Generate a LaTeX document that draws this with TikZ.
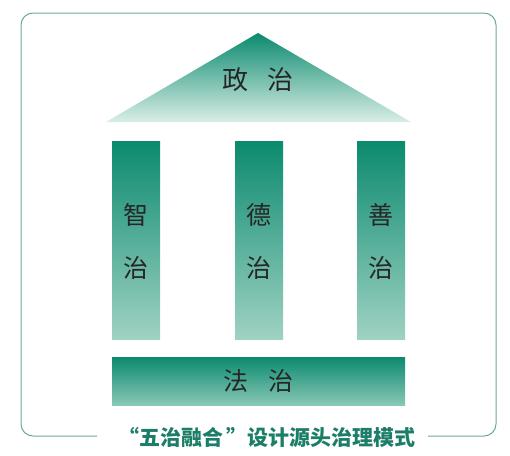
\documentclass[tikz,border=0pt]{standalone}
\usepackage{fontspec}
\setmainfont{Noto Sans CJK SC}
\newfontfamily\cjk{Noto Sans CJK SC}
\usetikzlibrary{positioning}
\definecolor{deepteal}{HTML}{0B8A6E}
\definecolor{paleteal}{HTML}{9FD2C3}
\definecolor{mistteal}{HTML}{D9EEE7}
\definecolor{framegreen}{HTML}{6FA898}
\definecolor{titleteal}{HTML}{1C7E68}
\tikzset{
  pillarbox/.style = {top color = deepteal, bottom color = paleteal, draw = none},
  glyph/.style = {font = \cjk\fontsize{25}{25}\selectfont, text = black!85, inner sep = 0pt},
}
\begin{document}
\begin{tikzpicture}[x = 1pt, y = -1pt]
\useasboundingbox (0,0) rectangle (510,455);
\pgfmathsetmacro\pw{48};
% frame with a gap for the title
\draw[framegreen, line width = 1pt, rounded corners = 12pt] (97,436) -- (21,436) -- (21,13) -- (496,13) -- (496,436) -- (428,436);
% roof
\shade[top color = deepteal, bottom color = mistteal] (258,33) -- (411,122) -- (106,122) -- cycle;
\node[glyph, font = \cjk\fontsize{26}{26}\selectfont] (roof) at (258,80) {政\hspace{20pt}治};
% pillars
\foreach \x/\a/\nm in {112/智/wisdom, 235/德/virtue, 357/善/kindness} {
  \shade[pillarbox] (\x,141) rectangle (\x+\pw,339);
  \node[glyph] (\nm-a) at (\x+\pw/2,215) {\a};
  \node[glyph] (\nm-b) at (\x+\pw/2,268) {治};
}
% base
\shade[top color = deepteal, bottom color = paleteal!85!deepteal] (112,357) rectangle (405,405);
\node[glyph] (law) at (258,381) {法\hspace{20pt}治};
% title
\node[font = \cjk\bfseries\fontsize{21}{21}\selectfont, text = titleteal, inner sep = 0pt] (title) at (267,437) {“五治融合\hspace{4pt}”设计源头治理模式};
\end{tikzpicture}
\end{document}
